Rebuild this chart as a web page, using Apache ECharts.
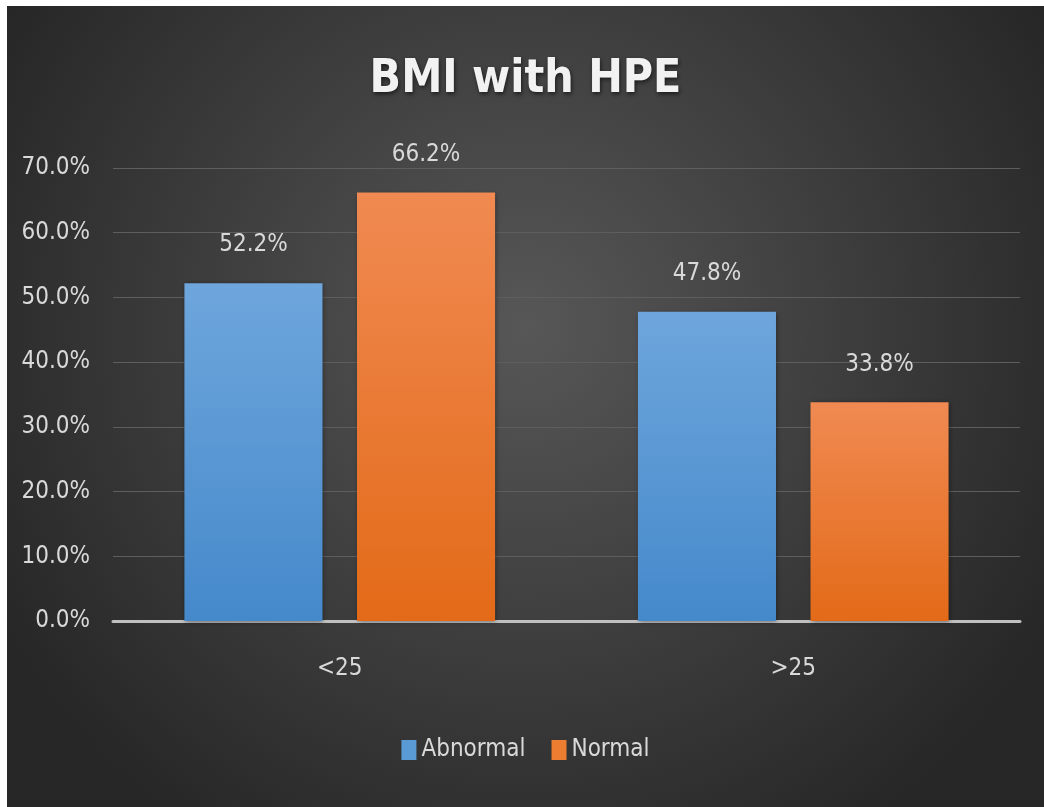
<!DOCTYPE html>
<html>
<head>
<meta charset="utf-8">
<script src="https://cdn.jsdelivr.net/npm/echarts@6/dist/echarts.min.js"></script>
<style>
html,body{margin:0;padding:0;background:#ffffff;}
#chart{position:absolute;left:7px;top:6px;width:1037px;height:801px;}
</style>
</head>
<body>
<div id="chart"></div>
<script>
const titleText = 'BMI with HPE';
const categories = ['<25', '>25'];
const seriesNames = ['Abnormal', 'Normal'];
const abnormalValues = [52.2, 47.8];
const normalValues = [66.2, 33.8];
const yTicks = [0, 10, 20, 30, 40, 50, 60, 70];

const FONT = '"DejaVu Sans Condensed", "Liberation Sans Narrow", "Open Sans", sans-serif';
const chart = echarts.init(document.getElementById('chart'));

function grad(top, bottom) {
  return new echarts.graphic.LinearGradient(0, 0, 0, 1, [
    {offset: 0, color: top}, {offset: 1, color: bottom}
  ]);
}
const blue = grad('#6ea6dc', '#4589cb');
const orange = grad('#f08a52', '#e36a18');

const labelStyle = {
  show: true, position: 'top', distance: 26,
  color: '#d9d9d9', fontFamily: FONT, fontSize: 24,
  formatter: p => p.value.toFixed(1) + '%'
};

chart.setOption({
  backgroundColor: new echarts.graphic.RadialGradient(0.5, 0.4, 0.75, [
    {offset: 0, color: '#575757'}, {offset: 1, color: '#272727'}
  ]),
  animation: false,
  title: {
    text: titleText, left: 'center', top: 46,
    textStyle: {
      color: '#f2f2f2', fontFamily: FONT, fontWeight: 'bold', fontSize: 46,
      textShadowColor: 'rgba(0,0,0,0.6)', textShadowBlur: 4, textShadowOffsetX: 1, textShadowOffsetY: 2
    }
  },
  legend: {
    data: [
      {name: seriesNames[0], itemStyle: {color: '#5b9bd5'}},
      {name: seriesNames[1], itemStyle: {color: '#ed7d31'}}
    ],
    bottom: 40, left: 'center',
    itemWidth: 15, itemHeight: 20, itemGap: 26,
    textStyle: {color: '#d9d9d9', fontFamily: FONT, fontSize: 24, padding: [0, 0, 0, 0]},
    icon: 'rect'
  },
  grid: {left: 106, right: 24, top: 162, bottom: 186, containLabel: false},
  xAxis: {
    type: 'category', data: categories,
    axisLine: {lineStyle: {color: '#c0c0c0', width: 3}},
    axisTick: {show: false},
    axisLabel: {color: '#d9d9d9', fontFamily: FONT, fontSize: 24, margin: 36}
  },
  yAxis: {
    type: 'value', min: 0, max: 70, interval: 10,
    axisLine: {show: false}, axisTick: {show: false},
    splitLine: {lineStyle: {color: '#5e5e5e', width: 1}},
    axisLabel: {
      color: '#d9d9d9', fontFamily: FONT, fontSize: 24, margin: 23,
      formatter: v => v.toFixed(1) + '%'
    }
  },
  series: [
    {
      name: seriesNames[0], type: 'bar', data: abnormalValues,
      barCategoryGap: '31.5%', barGap: '25%',
      itemStyle: {color: blue, shadowColor: 'rgba(0,0,0,0.45)', shadowBlur: 5, shadowOffsetX: 1, shadowOffsetY: 1},
      label: labelStyle
    },
    {
      name: seriesNames[1], type: 'bar', data: normalValues,
      barCategoryGap: '31.5%', barGap: '25%',
      itemStyle: {color: orange, shadowColor: 'rgba(0,0,0,0.45)', shadowBlur: 5, shadowOffsetX: 1, shadowOffsetY: 1},
      label: labelStyle
    }
  ]
});
</script>
</body>
</html>
